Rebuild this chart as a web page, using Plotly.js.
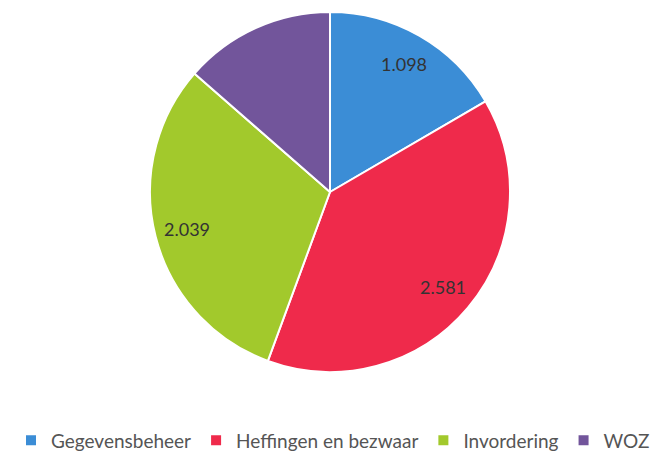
<!DOCTYPE html>
<html>
<head>
<meta charset="utf-8">
<script src="https://cdn.plot.ly/plotly-3.0.1.min.js"></script>
<style>
  html, body { margin: 0; padding: 0; background: #fff; }
  #chart { width: 655px; height: 466px; }
</style>
</head>
<body>
<div id="chart"></div>
<script>
  const categories = ["Gegevensbeheer", "Heffingen en bezwaar", "Invordering", "WOZ"];
  const values = [1098, 2581, 2039, 898];
  const showLabel = [true, true, true, false];
  const colors = ["#3b8dd6", "#ef2a4b", "#a2c92c", "#72559b"];

  const W = 655, H = 466;
  const margin = { l: 5, r: 0, t: 12, b: 94 };
  const plotW = W - margin.l - margin.r;
  const plotH = H - margin.t - margin.b;
  const R = Math.min(plotW, plotH) / 2;
  const labelR = 0.82;

  // value labels sit on each slice's bisector, like the original
  const total = values.reduce((a, b) => a + b, 0);
  const annotations = [];
  let cum = 0;
  values.forEach((v, i) => {
    const mid = (cum + v / 2) / total * 2 * Math.PI;
    cum += v;
    if (!showLabel[i]) return;
    annotations.push({
      xref: "paper", yref: "paper",
      x: 0.5 + labelR * R * Math.sin(mid) / plotW,
      y: 0.5 + labelR * R * Math.cos(mid) / plotH,
      xanchor: "center", yanchor: "middle",
      text: v.toLocaleString("nl-NL"),
      showarrow: false,
      font: { family: "Lato, 'Open Sans', sans-serif", size: 18, color: "#333333" }
    });
  });

  const data = [{
    type: "pie",
    labels: categories,
    values: values,
    sort: false,
    direction: "clockwise",
    rotation: 0,
    textinfo: "none",
    hoverinfo: "label+value",
    marker: { colors: colors, line: { color: "#ffffff", width: 2 } }
  }];

  const layout = {
    width: W, height: H,
    margin: margin,
    paper_bgcolor: "#ffffff",
    showlegend: true,
    legend: {
      orientation: "h",
      x: 0.505, xanchor: "center",
      y: -0.19, yanchor: "middle",
      font: { family: "Lato, 'Open Sans', sans-serif", size: 19, color: "#555555" },
      itemwidth: 30
    },
    annotations: annotations
  };

  Plotly.newPlot("chart", data, layout, { displayModeBar: false, staticPlot: true });
</script>
</body>
</html>
